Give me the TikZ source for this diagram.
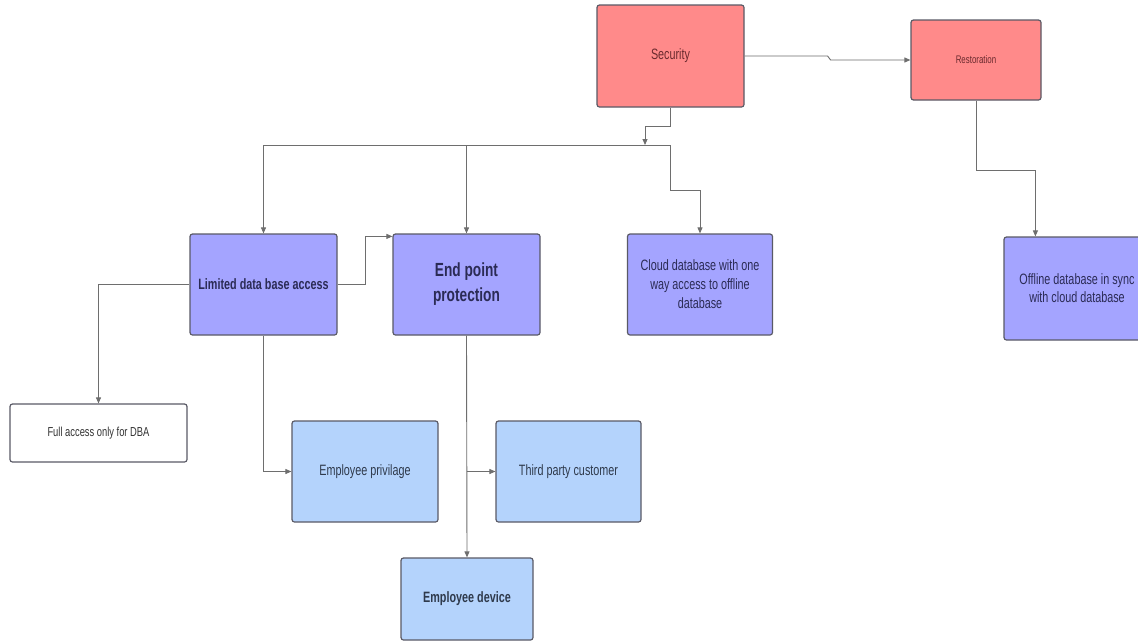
\documentclass[tikz,border=0pt]{standalone}
\usepackage{fontspec}
\setmainfont{Liberation Sans}[FakeStretch=0.72]
\usetikzlibrary{arrows.meta,calc}

\definecolor{salmon}{HTML}{FF8A8A}
\definecolor{lavender}{HTML}{A4A4FF}
\definecolor{skyblue}{HTML}{B4D3FC}
\definecolor{boxline}{HTML}{5A5A66}
\definecolor{linkgray}{HTML}{6E6E6E}
\definecolor{redtext}{HTML}{6A2A2E}
\definecolor{navytext}{HTML}{2B2B55}
\definecolor{slatetext}{HTML}{2F3A4C}

\begin{document}
\begin{tikzpicture}[x=1pt,y=-1pt,
  box/.style={draw=boxline, line width=1.2pt, rounded corners=2.5pt,
              inner sep=0pt, align=center},
  redbox/.style={box, fill=salmon, text=redtext},
  purplebox/.style={box, fill=lavender, text=navytext},
  bluebox/.style={box, fill=skyblue, text=slatetext},
  plainbox/.style={box, fill=white, text=black!80},
  link/.style={draw=linkgray, line width=0.9pt},
  arr/.style={link, -{Triangle[length=6pt,width=5pt]}},
  regular/.style={font=\fontsize{15}{19}\selectfont},
  heavy/.style={font=\bfseries\fontsize{15}{19}\selectfont}
]
\useasboundingbox (0,0) rectangle (1138,641);
\clip (0,0) rectangle (1138,641);
\fill[white] (0,0) rectangle (1138,641);

% top level
\node[redbox, minimum width=147pt, minimum height=102pt, regular] (sec) at (670.5,56) {Security};
\node[redbox, minimum width=130pt, minimum height=80pt, font=\fontsize{11}{13}\selectfont] (res) at (976,60) {Restoration};

% second level
\node[purplebox, minimum width=147pt, minimum height=101pt, heavy] (lim) at (263.5,284.5) {Limited data base access};
\node[purplebox, minimum width=147pt, minimum height=101pt, font=\bfseries\fontsize{19}{25}\selectfont] (endp) at (466.5,284.5) {End point\\protection};
\node[purplebox, minimum width=145pt, minimum height=101pt, regular] (cloud) at (700,284.5) {Cloud database with one\\way access to offline\\database};
\node[purplebox, minimum width=146pt, minimum height=103pt, font=\fontsize{15}{18}\selectfont] (off) at (1077,288.5) {Offline database in sync\\with cloud database};

% third level
\node[plainbox, minimum width=177pt, minimum height=58pt, font=\fontsize{13}{16}\selectfont] (full) at (98.5,433) {Full access only for DBA};
\node[bluebox, minimum width=146pt, minimum height=101pt, regular] (emp) at (365,471.5) {Employee privilage};
\node[bluebox, minimum width=145pt, minimum height=101pt, regular] (third) at (568.5,471.5) {Third party customer};
\node[bluebox, minimum width=132pt, minimum height=82pt, heavy] (dev) at (467,599) {Employee device};

% Security to Restoration, with a small jog
\draw[arr] (sec.east) -- ++(83,0) -- ++(3,4) -- (res.west);

% Security down to the distribution line
\coordinate (busL) at (263.5,145);
\coordinate (busR) at (670,145);
\draw[arr] (sec.south) -- ++(0,19) -| (645,145);
\draw[link] (busL) -- (busR);
\draw[arr] (busL) -- (lim.north);
\draw[arr] (endp.north |- busL) -- (endp.north);
\draw[arr] (busR) -- ++(0,45) -| (cloud.north);

% Restoration to the offline database
\draw[arr] (res.south) -- ++(0,70) -| ($(off.north west)+(32,0)$);

% Limited access branches
\draw[arr] (lim.east) -- ++(28,0) |- ($(endp.north west)+(0,3)$);
\draw[arr] (lim.west) -| (full.north);
\draw[arr] (lim.south) |- (emp.west);

% End point protection branches
\draw[arr] (endp.south) -- (dev.north);
\draw[arr] (endp.south |- third.west) -- (third.west);
\end{tikzpicture}
\end{document}
